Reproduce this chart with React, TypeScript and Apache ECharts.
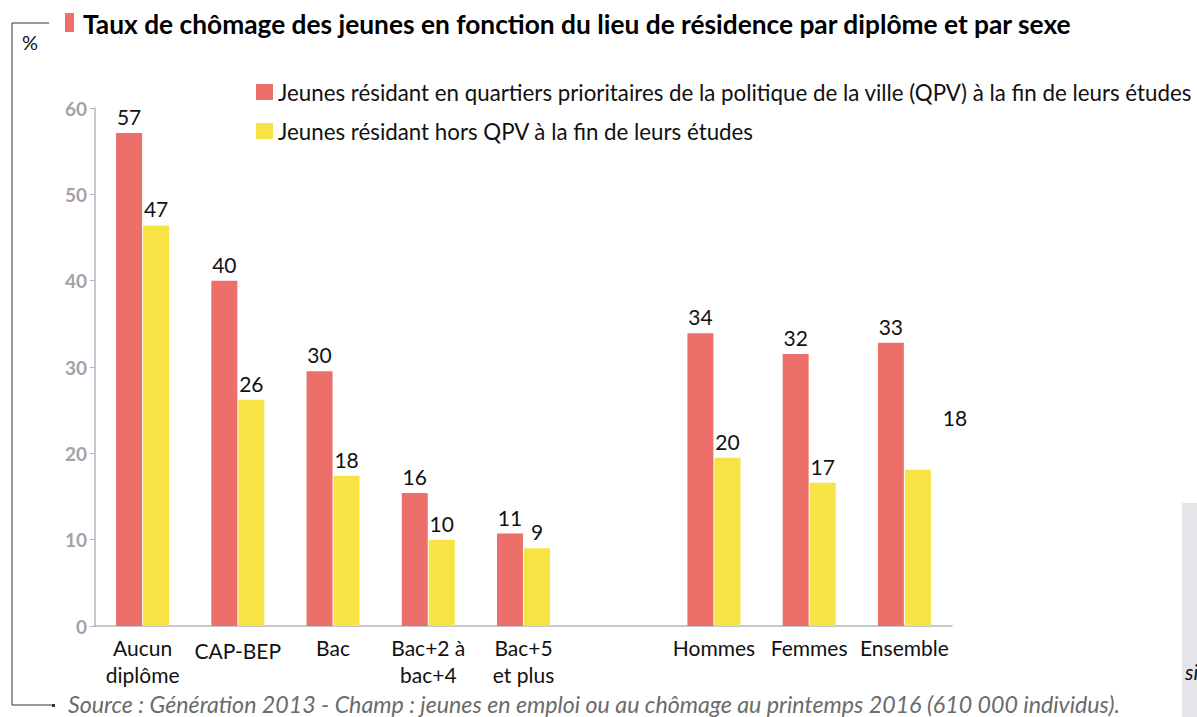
import React, { useEffect, useRef } from "react";
import * as echarts from "echarts";

const categories = [
  "Aucun\ndiplôme",
  "CAP-BEP",
  "Bac",
  "Bac+2 à\nbac+4",
  "Bac+5\net plus",
  "",
  "Hommes",
  "Femmes",
  "Ensemble",
];
const qpvValues = [57.1, 40.0, 29.5, 15.4, 10.7, null, 33.9, 31.5, 32.8];
const horsValues = [46.4, 26.2, 17.4, 10.0, 9.0, null, 19.5, 16.6, 18.1];
const qpvLabels = ["57", "40", "30", "16", "11", "", "34", "32", "33"];
const horsLabels = ["47", "26", "18", "10", "9", "", "20", "17", "18"];
const yTicks = { min: 0, max: 60, interval: 10 };

const seriesNames = [
  "Jeunes résidant en quartiers prioritaires de la politique de la ville (QPV) à la fin de leurs études",
  "Jeunes résidant hors QPV à la fin de leurs études",
];
const titleText =
  "Taux de chômage des jeunes en fonction du lieu de résidence par diplôme et par sexe";
const sourceText =
  "Source : Génération 2013 - Champ : jeunes en emploi ou au chômage au printemps 2016 (610 000 individus).";

const RED = "#ec7069";
const YELLOW = "#f7e444";
const FONT = "Lato";

export default function App() {
  const ref = useRef<HTMLDivElement>(null);
  useEffect(() => {
    if (!ref.current) return;
    const chart = echarts.init(ref.current, null, { renderer: "svg" });

    const mkData = (vals: (number | null)[], special?: number) =>
      vals.map((v, i) => {
        const item: any = { value: v == null ? "-" : v };
        if (special === i) {
          item.label = { offset: [37, -36] };
        }
        return item;
      });

    const labelCfg = (labels: string[]) => ({
      show: true,
      position: "top",
      distance: 6,
      fontFamily: FONT,
      fontSize: 21,
      color: "#111",
      formatter: (p: any) => labels[p.dataIndex],
    });

    chart.setOption({
      animation: false,
      textStyle: { fontFamily: FONT },
      grid: { left: 95, right: 245, top: 108, bottom: 91, containLabel: false },
      legend: {
        orient: "vertical",
        left: 256,
        top: 81,
        padding: 0,
        itemWidth: 17,
        itemHeight: 16,
        itemGap: 17,
        icon: "rect",
        textStyle: { fontFamily: FONT, fontSize: 22.3, color: "#111", lineHeight: 22 },
        data: seriesNames,
      },
      xAxis: {
        type: "category",
        data: categories,
        axisLine: { show: true, lineStyle: { color: "#b4b4c6", width: 1.5 } },
        axisTick: { show: false },
        axisLabel: {
          interval: 0,
          fontFamily: FONT,
          fontSize: 21,
          lineHeight: 27,
          color: "#111",
          margin: 8,
          formatter: (v: string) => (v === "CAP-BEP" ? "{low|" + v + "}" : v),
          rich: {
            low: { fontFamily: FONT, fontSize: 21, color: "#111", lineHeight: 27, padding: [5, 0, 0, 0] },
          },
        },
      },
      yAxis: {
        type: "value",
        min: yTicks.min,
        max: yTicks.max,
        interval: yTicks.interval,
        axisLine: { show: true, lineStyle: { color: "#b4b4c6", width: 1.5 } },
        axisTick: { show: true, length: 5, lineStyle: { color: "#b4b4c6" } },
        splitLine: { show: false },
        axisLabel: {
          fontFamily: FONT,
          fontSize: 19,
          fontWeight: "bold",
          color: "#a3a3a3",
          margin: 8,
        },
      },
      series: [
        {
          name: seriesNames[0],
          type: "bar",
          barWidth: 26,
          barGap: "4%",
          itemStyle: { color: RED },
          label: labelCfg(qpvLabels),
          data: mkData(qpvValues),
        },
        {
          name: seriesNames[1],
          type: "bar",
          barWidth: 26,
          barGap: "4%",
          itemStyle: { color: YELLOW },
          label: labelCfg(horsLabels),
          data: mkData(horsValues, 8),
        },
      ],
      graphic: [
        { type: "rect", shape: { x: 65, y: 13, width: 9, height: 19 }, style: { fill: RED } },
        {
          type: "text",
          x: 83,
          y: 24,
          style: {
            text: titleText,
            fontFamily: FONT,
            fontSize: 26.3,
            fontWeight: "bold",
            fill: "#000",
            textVerticalAlign: "middle",
          },
        },
        {
          type: "polyline",
          shape: { points: [[49, 23], [12, 23], [12, 705], [53, 705]] },
          style: { stroke: "#333", lineWidth: 1, fill: "none" },
        },
        { type: "rect", shape: { x: 52, y: 704, width: 3, height: 3 }, style: { fill: "#333" } },
        {
          type: "text",
          x: 22,
          y: 42,
          style: { text: "%", fontFamily: FONT, fontSize: 20, fill: "#111", textVerticalAlign: "middle" },
        },
        {
          type: "text",
          x: 68,
          y: 704,
          style: {
            text: sourceText,
            fontFamily: FONT,
            fontSize: 23.2,
            fontStyle: "italic",
            fill: "#6b6b6b",
            textVerticalAlign: "middle",
          },
        },
        { type: "rect", shape: { x: 1182, y: 503, width: 20, height: 220 }, style: { fill: "#e4e4e9" } },
        {
          type: "text",
          x: 1185,
          y: 671,
          style: {
            text: "si",
            fontFamily: FONT,
            fontSize: 21,
            fontStyle: "italic",
            fill: "#111",
            textVerticalAlign: "middle",
          },
        },
      ],
    });
    return () => chart.dispose();
  }, []);
  return (
    <div
      ref={ref}
      style={{ position: "fixed", left: 0, top: 0, width: 1197, height: 717, background: "#fff" }}
    />
  );
}
